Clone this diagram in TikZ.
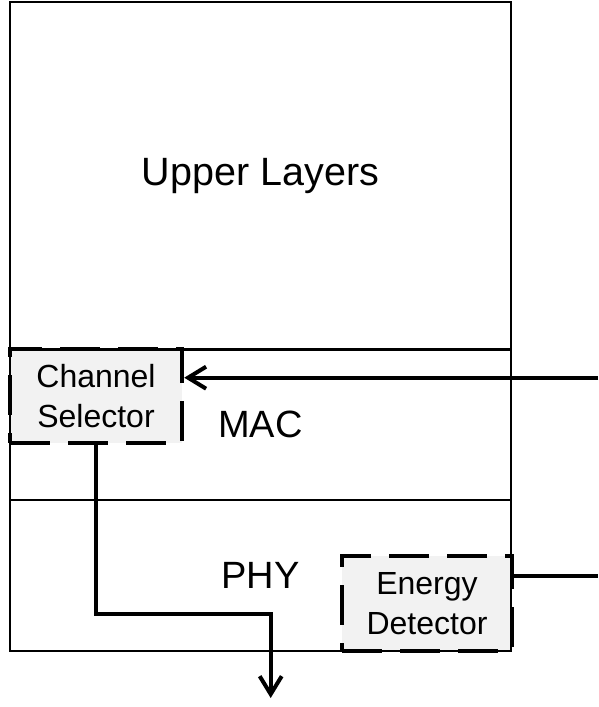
\documentclass[tikz,border=0pt]{standalone}
\usepackage{fontspec}
\setmainfont{Liberation Sans}
\usetikzlibrary{arrows.meta}
\definecolor{boxgray}{HTML}{F2F2F2}

\begin{document}
\begin{tikzpicture}[
    x=1pt, y=-1pt,
    layer/.style={draw, line width=2pt, minimum width=501pt, inner sep=0pt,
      font=\fontsize{38}{44}\selectfont},
    unit/.style={draw, fill=boxgray, line width=4.5pt, dash pattern=on 40pt off 18pt,
      inner sep=0pt, align=center, font=\fontsize{32}{40}\selectfont},
    sig/.style={-{Straight Barb[length=18pt,width=22pt]}, line width=4pt},
    link/.style={line width=4pt}
  ]
  \useasboundingbox (0,0) rectangle (598,707);

  % Function boxes
  \node[unit, minimum width=172pt, minimum height=94pt] (chsel) at (96,396) {Channel\\Selector};
  \node[unit, minimum width=170pt, minimum height=95pt] (endet) at (427,603.5) {Energy\\Detector};

  % Protocol layers
  \node[layer, minimum height=348pt, font=\fontsize{39.5}{44}\selectfont] (upper) at (260.5,176) {Upper Layers};
  \node[layer, minimum height=151pt] (mac) at (260.5,424.5) {MAC};
  \node[layer, minimum height=151pt] (phy) at (260.5,575.5) {PHY};

  % Signal ends
  \coordinate (macin) at (598,377.7);
  \coordinate (phyout) at (598,575.7);
  \coordinate (bend) at (270.7,614);
  \coordinate (down) at (270.7,698);

  % Connectors
  \draw[sig] (macin) -- (macin -| chsel.east);
  \draw[link] (phyout -| endet.east) -- (phyout);
  \draw[sig] (chsel.south) |- (bend) -- (down);
\end{tikzpicture}
\end{document}
